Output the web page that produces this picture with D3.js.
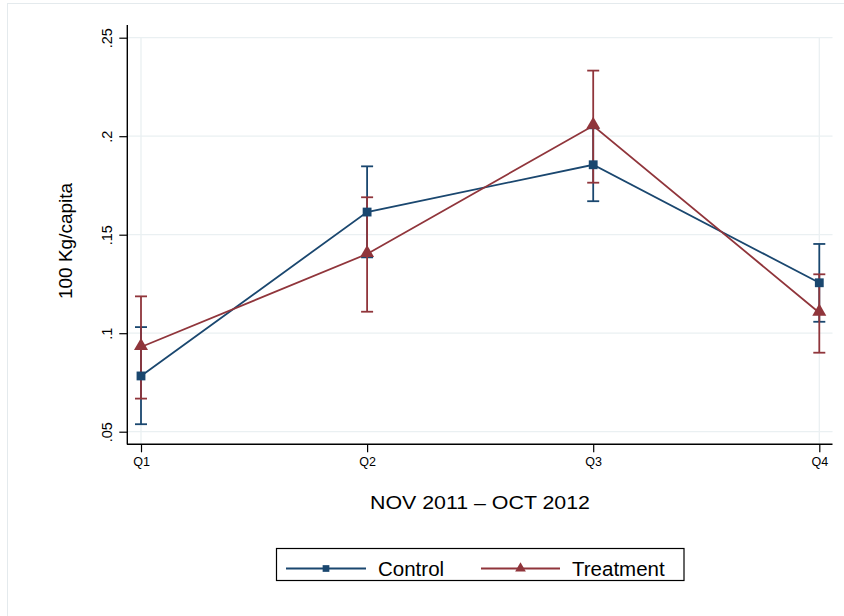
<!DOCTYPE html>
<html>
<head>
<meta charset="utf-8">
<script src="https://cdn.jsdelivr.net/npm/d3@7"></script>
<style>
  html, body { margin: 0; padding: 0; background: #fff; }
  text { font-family: "Liberation Sans", Arial, Helvetica, sans-serif; fill: #000; }
</style>
</head>
<body>
<svg id="chart" width="844" height="616"></svg>
<script>
// ---- data ----
const categories = ["Q1", "Q2", "Q3", "Q4"];
const controlMean  = [0.0783, 0.1615, 0.1855, 0.1256];
const controlLow   = [0.0538, 0.1385, 0.1670, 0.1058];
const controlHigh  = [0.1031, 0.1847, 0.2040, 0.1453];
const treatMean    = [0.0930, 0.1402, 0.2053, 0.1104];
const treatLow     = [0.0668, 0.1109, 0.1764, 0.0901];
const treatHigh    = [0.1187, 0.1690, 0.2333, 0.1299];
const yTicks = [0.05, 0.10, 0.15, 0.20, 0.25];
const yTickLabels = [".05", ".1", ".15", ".2", ".25"];
const seriesNames = ["Control", "Treatment"];
const xTitle = "NOV 2011 \u2013 OCT 2012";
const yTitle = "100 Kg/capita";

const navy = "#1a476f", maroon = "#90353b", gridCol = "#eaf0f2";

const svg = d3.select("#chart");

// outer frame
svg.append("rect").attr("x", 7.5).attr("y", 3.5).attr("width", 850).attr("height", 630)
  .attr("fill", "none").attr("stroke", "#e4eaed").attr("stroke-width", 1);

const x = d3.scalePoint().domain(categories).range([141, 819.3]);
const y = d3.scaleLinear().domain([0.05, 0.25]).range([431.7, 37.7]);

// gridlines
svg.append("g").selectAll("line").data(yTicks).join("line")
  .attr("x1", 127).attr("x2", 832.5)
  .attr("y1", d => y(d)).attr("y2", d => y(d))
  .attr("stroke", gridCol).attr("stroke-width", 1.3);
svg.append("g").selectAll("line").data([categories[0], categories[categories.length - 1]]).join("line")
  .attr("x1", d => x(d)).attr("x2", d => x(d))
  .attr("y1", y(0.25)).attr("y2", 444)
  .attr("stroke", gridCol).attr("stroke-width", 1.3);

// y axis
const yAxis = d3.axisLeft(y).tickValues(yTicks).tickFormat((d, i) => yTickLabels[i]).tickSize(8).tickPadding(6);
const gy = svg.append("g").attr("transform", "translate(127.3,0)").call(yAxis);
gy.select(".domain").attr("d", `M0,25V444.5`).attr("stroke", "#000").attr("stroke-width", 1.4);
gy.selectAll(".tick line").attr("stroke", "#000").attr("stroke-width", 1.2);
gy.selectAll(".tick text")
  .attr("x", null).attr("dy", null)
  .attr("text-anchor", "middle")
  .attr("transform", "translate(-15.5,0) rotate(-90)")
  .style("font-size", "14.5px");

// x axis
const xAxis = d3.axisBottom(x).tickSize(8).tickPadding(5);
const gx = svg.append("g").attr("transform", "translate(0,444.3)").call(xAxis);
gx.select(".domain").attr("d", `M127,0H832.5`).attr("stroke", "#000").attr("stroke-width", 1.4);
gx.selectAll(".tick line").attr("stroke", "#000").attr("stroke-width", 1.2);
gx.selectAll(".tick text").style("font-size", "12.5px").attr("dy", "0.71em");

// axis titles
svg.append("text").attr("transform", "translate(72,241) rotate(-90)")
  .attr("text-anchor", "middle").style("font-size", "19px").text(yTitle);
svg.append("text").attr("x", 480).attr("y", 508.5)
  .attr("text-anchor", "middle").style("font-size", "19px")
  .attr("textLength", 220).attr("lengthAdjust", "spacingAndGlyphs").text(xTitle);

// error bars
function errBars(low, high, color) {
  const g = svg.append("g");
  const data = categories.map((c, i) => ({c, lo: low[i], hi: high[i]}));
  g.selectAll(".v").data(data).join("line")
    .attr("x1", d => x(d.c)).attr("x2", d => x(d.c))
    .attr("y1", d => y(d.lo)).attr("y2", d => y(d.hi))
    .attr("stroke", color).attr("stroke-width", 1.8);
  ["lo", "hi"].forEach(k => {
    g.selectAll(".c" + k).data(data).join("line")
      .attr("x1", d => x(d.c) - 6).attr("x2", d => x(d.c) + 6)
      .attr("y1", d => y(d[k])).attr("y2", d => y(d[k]))
      .attr("stroke", color).attr("stroke-width", 1.8);
  });
}
errBars(controlLow, controlHigh, navy);
errBars(treatLow, treatHigh, maroon);

// lines and markers
const line = d3.line().x(d => x(d.c)).y(d => y(d.v));
function series(vals, color, shape) {
  const data = categories.map((c, i) => ({c, v: vals[i]}));
  svg.append("path").datum(data).attr("d", line)
    .attr("fill", "none").attr("stroke", color).attr("stroke-width", 1.8);
  const sym = d3.symbol().type(shape === "square" ? d3.symbolSquare : d3.symbolTriangle)
    .size(shape === "square" ? 78 : 85);
  svg.append("g").selectAll("path").data(data).join("path")
    .attr("transform", d => `translate(${x(d.c)},${y(d.v) + (shape === "square" ? 0 : -1)})`)
    .attr("d", sym).attr("fill", color);
}
series(controlMean, navy, "square");
series(treatMean, maroon, "triangle");

// legend
const lg = svg.append("g");
lg.append("rect").attr("x", 276.5).attr("y", 548.5).attr("width", 407.5).attr("height", 32)
  .attr("fill", "#fff").attr("stroke", "#000").attr("stroke-width", 1.2);
const legendItems = [
  {name: seriesNames[0], color: navy, shape: d3.symbolSquare, size: 45, x0: 286, x1: 366, tx: 378},
  {name: seriesNames[1], color: maroon, shape: d3.symbolTriangle, size: 50, x0: 481, x1: 560, tx: 572}
];
legendItems.forEach(it => {
  lg.append("line").attr("x1", it.x0).attr("x2", it.x1).attr("y1", 568.5).attr("y2", 568.5)
    .attr("stroke", it.color).attr("stroke-width", 1.8);
  lg.append("path").attr("transform", `translate(${(it.x0 + it.x1) / 2},568.5)`)
    .attr("d", d3.symbol().type(it.shape).size(it.size)()).attr("fill", it.color);
  lg.append("text").attr("x", it.tx).attr("y", 576).style("font-size", "20.5px").text(it.name);
});
</script>
</body>
</html>
